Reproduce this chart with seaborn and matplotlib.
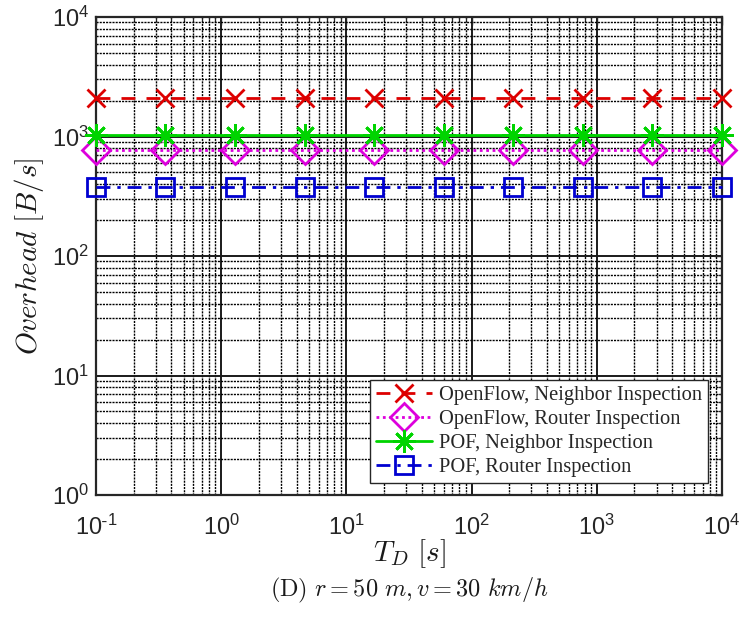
import matplotlib
matplotlib.use("Agg")
import matplotlib.pyplot as plt
import seaborn as sns
import pandas as pd
import math
from matplotlib.ticker import LogLocator, NullFormatter, FuncFormatter

# Data
t_d = [0.1, 0.359, 1.29, 4.64, 16.7, 59.9, 215, 774, 2783, 10000]
openflow_neighbor = [2100] * 10
openflow_router = [770] * 10
pof_neighbor = [1030] * 10
pof_router = [380] * 10
labels = ["OpenFlow, Neighbor Inspection", "OpenFlow, Router Inspection",
          "POF, Neighbor Inspection", "POF, Router Inspection"]

sns.set_style("white")
plt.rcParams["mathtext.fontset"] = "cm"
plt.rcParams["font.family"] = ["Liberation Sans", "DejaVu Sans"]

fig = plt.figure(figsize=(7.42, 6.21), dpi=100)
ax = fig.add_axes([96 / 742, 1 - 495 / 621, (722 - 96) / 742, (495 - 17) / 621])

series = [openflow_neighbor, openflow_router, pof_neighbor, pof_router]
colors = ["#dd0000", "#dd00dd", "#00d400", "#0000d0"]
styles = [(0, (5, 4)), (0, (1, 1.3)), "-", (0, (5, 2.5, 1.2, 2.5))]
markers = ["x", "D", (8, 2, 0), "s"]
msizes = [13, 14, 16.5, 13]

for vals, lab, c, ls, m, ms in zip(series, labels, colors, styles, markers, msizes):
    df = pd.DataFrame({"T_D": t_d, "Overhead": vals})
    sns.lineplot(data=df, x="T_D", y="Overhead", ax=ax, color=c, linestyle=ls,
                 marker=m, markersize=ms, markerfacecolor="none",
                 markeredgecolor=c, markeredgewidth=2, linewidth=2, label=lab,
                 clip_on=False, zorder=5)

ax.set_xscale("log")
ax.set_yscale("log")
ax.set_xlim(0.1, 1e4)
ax.set_ylim(1, 1e4)


def fmt(v, pos):
    e = int(round(math.log10(v)))
    if e < 0:
        return r"$\mathdefault{10^{\text{-}%d}}$" % (-e)
    return r"$\mathdefault{10^{%d}}$" % e


ax.xaxis.set_major_locator(LogLocator(base=10, numticks=20))
ax.yaxis.set_major_locator(LogLocator(base=10, numticks=20))
ax.xaxis.set_major_formatter(FuncFormatter(fmt))
ax.yaxis.set_major_formatter(FuncFormatter(fmt))
ax.xaxis.set_minor_locator(LogLocator(base=10, subs=range(2, 10), numticks=100))
ax.yaxis.set_minor_locator(LogLocator(base=10, subs=range(2, 10), numticks=100))
ax.xaxis.set_minor_formatter(NullFormatter())
ax.yaxis.set_minor_formatter(NullFormatter())

ax.grid(True, which="major", color="#1a1a1a", linestyle="-", linewidth=1.4, zorder=1)
ax.grid(True, which="minor", color="#000000", linestyle=(0, (1.5, 0.8)), linewidth=1.0, zorder=1)
ax.set_axisbelow(True)

ax.tick_params(axis="both", which="both", direction="in", labelsize=17, colors="#262626",
               top=True, right=True)
ax.tick_params(axis="both", which="major", length=6, width=1)
ax.tick_params(axis="both", which="minor", length=3, width=0.8)
ax.tick_params(axis="x", pad=14)
ax.tick_params(axis="y", pad=5)
for s in ax.spines.values():
    s.set_color("#262626")
    s.set_linewidth(1.6)

ax.set_xlabel(r"$T_D\ [s]$", fontsize=21, labelpad=-2, color="#1a1a1a")
ax.set_ylabel(r"$Overhead\ [B/s]$", fontsize=21, labelpad=4, color="#1a1a1a")

leg = ax.legend(loc="lower right", bbox_to_anchor=(1 - 14 / 626, 12 / 478), frameon=True,
                fancybox=False, edgecolor="#262626", framealpha=1,
                prop={"family": "Liberation Serif", "size": 14.8},
                handlelength=2.7, handletextpad=0.34, borderpad=0.3,
                labelspacing=0.22, borderaxespad=0)
leg.get_frame().set_linewidth(1.0)
leg.set_zorder(10)

fig.text(409 / 742, 1 - 590 / 621, r"$(\mathrm{D})\ r = 50\ m, v = 30\ km/h$",
         ha="center", va="center", fontsize=17.5, color="#1a1a1a")

fig.savefig("out.png", dpi=100)
